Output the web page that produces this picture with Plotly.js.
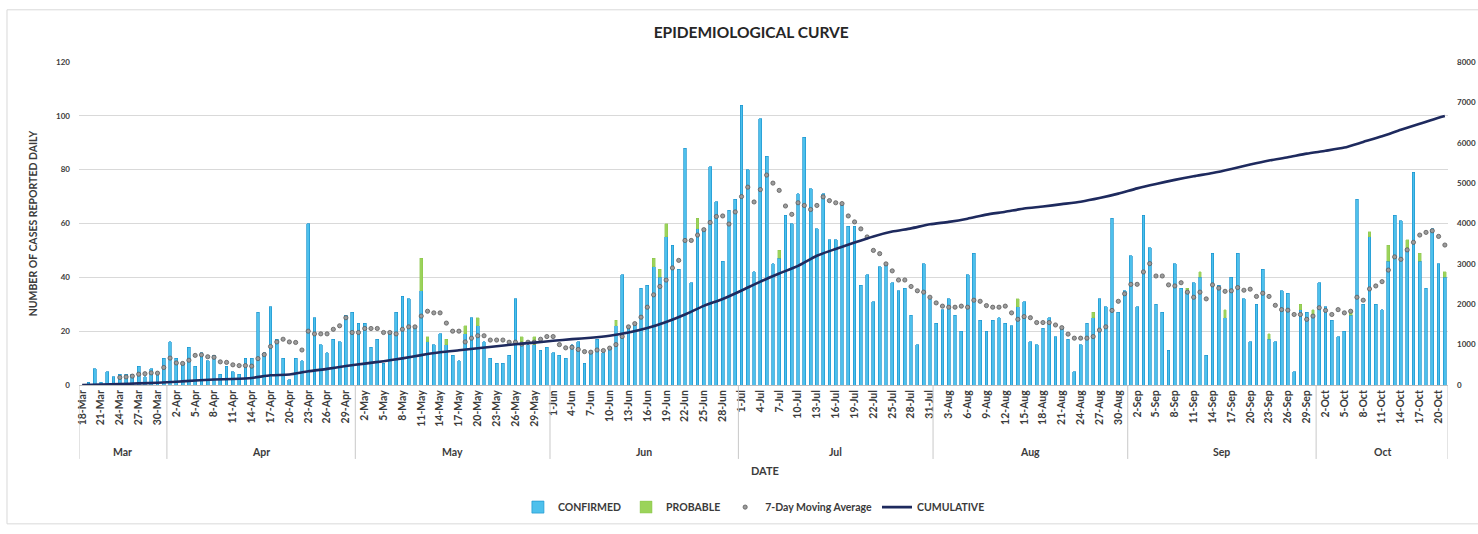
<!DOCTYPE html>
<html><head><meta charset="utf-8">
<script src="https://cdn.plot.ly/plotly-3.0.1.min.js"></script>
<style>html,body{margin:0;padding:0;background:#fff;}#chart{width:1478px;height:534px;}</style>
</head><body><div id="chart"></div>
<script>
// ---- categories ----
const months = ["Mar","Apr","May","Jun","Jul","Aug","Sep","Oct"];
const monthFirstDay = [18,1,1,1,1,1,1,1];
const monthDays = [14,30,31,30,31,31,30,21];

const tickLabels = ["18-Mar","21-Mar","24-Mar","27-Mar","30-Mar","2-Apr","5-Apr","8-Apr","11-Apr","14-Apr","17-Apr","20-Apr","23-Apr","26-Apr","29-Apr","2-May","5-May","8-May","11-May","14-May","17-May","20-May","23-May","26-May","29-May","1-Jun","4-Jun","7-Jun","10-Jun","13-Jun","16-Jun","19-Jun","22-Jun","25-Jun","28-Jun","1-Jul","4-Jul","7-Jul","10-Jul","13-Jul","16-Jul","19-Jul","22-Jul","25-Jul","28-Jul","31-Jul","3-Aug","6-Aug","9-Aug","12-Aug","15-Aug","18-Aug","21-Aug","24-Aug","27-Aug","30-Aug","2-Sep","5-Sep","8-Sep","11-Sep","14-Sep","17-Sep","20-Sep","23-Sep","26-Sep","29-Sep","2-Oct","5-Oct","8-Oct","11-Oct","14-Oct","17-Oct","20-Oct"];

// ---- series (daily, 18-Mar .. 21-Oct) ----
const confirmed = [
0,1,6,1,5,3,4,4,4,7,3,6,4,10,
16,10,8,14,7,12,9,11,4,7,5,4,10,10,27,12,29,17,10,2,10,9,
60,25,15,12,17,16,26,27,23,23,14,17,8,20,27,33,32,22,
35,16,15,19,15,11,9,19,25,22,16,10,8,8,11,32,16,15,
15,13,14,12,11,10,15,16,8,12,17,12,14,22,
41,21,23,36,37,44,40,55,52,43,88,38,58,58,81,68,46,65,69,104,80,42,
99,85,45,47,63,60,71,92,73,58,71,54,54,67,59,59,37,
41,31,44,45,38,35,36,26,15,45,32,23,28,32,26,20,41,49,24,20,
24,25,23,22,29,31,16,15,21,25,18,21,17,5,15,23,25,32,29,
62,27,35,48,29,63,51,30,27,13,45,36,34,38,40,11,49,37,
25,40,49,32,16,30,43,17,16,35,34,5,28,27,26,38,29,24,18,20,26,69,30,55,30,28,46,63,61,51,79,46,36,58,45,40
];

const probableDates = ["11-May","12-May","15-May","18-May","20-May","27-May","29-May","11-Jun","17-Jun","18-Jun","19-Jun","24-Jun","7-Jul","14-Aug","26-Aug","10-Sep","12-Sep","16-Sep","23-Sep","28-Sep","30-Sep","6-Oct","9-Oct","12-Oct","15-Oct","17-Oct","21-Oct"];
const probableValues = [12,2,2,3,3,2,3,2,3,3,5,4,3,3,2,2,2,3,2,2,2,2,2,6,3,3,2];

const movingAvg = [
null,null,null,null,null,null,
2.8,3.0,3.3,4.0,4.2,4.5,4.4,6.5,
10.0,8.2,8.0,9.2,11.0,11.2,10.5,10.3,8.6,8.4,7.5,7.2,7.2,7.0,9.8,11.3,14.3,16.0,17.0,16.0,15.8,13.0,
20.0,19.0,19.0,19.0,20.7,22.0,25.0,19.5,19.5,21.0,21.0,21.0,19.5,19.5,19.0,20.7,21.6,21.6,
25.6,27.4,26.8,26.8,23.0,20.0,20.0,16.0,17.4,18.3,18.3,16.7,16.7,16.7,15.9,15.9,15.2,15.9,
15.9,17.0,18.0,18.0,15.0,13.8,14.0,13.2,12.4,12.2,13.0,12.8,13.7,15.0,
18.0,21.6,22.8,25.2,28.9,33.5,36.6,39.0,43.5,46.3,53.7,53.7,55.7,57.7,60.4,62.6,62.8,59.8,64.3,70.0,73.5,68.0,
72.6,78.0,75.0,72.3,66.5,63.4,67.7,66.7,65.2,66.7,69.9,68.5,67.7,67.4,62.8,60.6,58.0,
55.0,50.0,48.8,45.0,42.4,39.0,39.0,36.6,35.0,34.5,32.6,30.5,29.3,28.9,28.9,29.3,28.9,31.5,31.1,29.5,
28.9,28.9,29.3,26.8,24.4,25.4,25.0,23.2,23.2,23.2,22.3,21.3,18.9,17.4,17.4,17.4,18.0,20.4,21.6,
27.7,31.1,33.9,37.4,37.4,42.0,45.1,40.5,40.5,37.2,36.8,38.0,34.5,32.6,34.5,32.0,37.2,36.0,
34.8,35.0,36.2,35.2,35.6,32.9,34.1,32.9,29.6,28.0,27.8,26.2,26.2,24.4,25.6,28.7,27.7,26.2,28.0,26.8,27.4,32.6,31.5,35.7,36.8,38.4,42.7,47.6,46.7,50.2,53.0,55.7,56.7,57.3,55.2,52.0
];

// cumulative total, read at each labelled date (plus last day)
const cumDates = tickLabels.concat(["21-Oct"]);
const cumulative = [0,12,25,40,55,80,110,135,150,175,240,260,340,400,470,530,590,660,740,810,860,910,960,1010,1050,1096,1135,1170,1220,1300,1410,1560,1746,1960,2130,2340,2560,2760,2950,3200,3370,3530,3680,3800,3880,3980,4040,4120,4220,4290,4370,4420,4480,4540,4630,4740,4870,4980,5080,5170,5250,5350,5460,5560,5640,5730,5800,5880,6020,6160,6320,6470,6620,6660];

// ---- build full category list ----
const dates = [];
const monthStart = [];
months.forEach((m,i)=>{
  monthStart.push(dates.length);
  for(let k=0;k<monthDays[i];k++) dates.push((monthFirstDay[i]+k)+'-'+m);
});
monthStart.push(dates.length);

const FONT = 'Lato, "Open Sans", sans-serif';
const TXT = '#3b3b3b';

const traces = [
  {type:'bar', name:'CONFIRMED', x:dates, y:confirmed,
   marker:{color:'#4DC0EC', line:{color:'#1C96D0', width:0.7}}},
  {type:'bar', name:'PROBABLE', x:probableDates, y:probableValues,
   marker:{color:'#9BD35A', line:{color:'#86C446', width:0.4}}},
  {type:'scatter', mode:'markers', name:'7-Day Moving Average', x:dates, y:movingAvg,
   marker:{symbol:'circle', size:4.2, color:'#9C9C9C', line:{color:'#5a5a5a', width:0.8}}},
  {type:'scatter', mode:'lines', name:'CUMULATIVE', x:cumDates, y:cumulative, yaxis:'y2',
   line:{color:'#1E2A5E', width:2.6, shape:'spline', smoothing:0.6}}
];

const shapes = monthStart.map(b=>({type:'line', xref:'x', yref:'paper',
  x0:b-0.5, x1:b-0.5, y0:0, y1:-0.229, line:{color:'#C8C8C8', width:1}}));
shapes.push({type:'rect', xref:'paper', yref:'paper', x0:-0.0526, x1:1.03, y0:-0.4299, y1:1.1616,
  line:{color:'#D9D9D9', width:1}, layer:'below'});

const annotations = months.map((m,i)=>({xref:'x', yref:'paper',
  x: monthStart[i] + (monthDays[i]-1)/2, y:-0.207, text:m, showarrow:false,
  font:{family:FONT, size:10.5, color:TXT, weight:700}, yanchor:'middle'}));
annotations.push({xref:'paper', yref:'paper', x:0.501, y:-0.265, text:'DATE', showarrow:false,
  font:{family:FONT, size:11, color:TXT, weight:700}, yanchor:'middle'});

const layout = {
  width:1478, height:534,
  margin:{l:79, r:30, t:62, b:144},
  paper_bgcolor:'#fff', plot_bgcolor:'#fff',
  barmode:'stack', bargap:0.55,
  showlegend:true,
  title:{text:'EPIDEMIOLOGICAL CURVE', xref:'paper', x:0.491, xanchor:'center',
         yref:'container', y:1-33/534, yanchor:'middle',
         font:{family:FONT, size:15.5, color:'#262626', weight:700}},
  xaxis:{type:'category', categoryorder:'array', categoryarray:dates,
         range:[-0.5, dates.length-0.5], tickmode:'array', tickvals:tickLabels, ticktext:tickLabels,
         tickangle:-90, ticks:'', showgrid:false, showline:true, linecolor:'#BFBFBF', linewidth:1,
         tickfont:{family:FONT, size:10.5, color:TXT, weight:700}, fixedrange:true},
  yaxis:{range:[0,120], dtick:20, showgrid:true, gridcolor:'#D9D9D9', gridwidth:1, zeroline:false,
         ticks:'', ticklabelstandoff:8, tickfont:{family:FONT, size:8, color:TXT, weight:700},
         title:{text:'NUMBER OF CASES REPORTED DAILY', standoff:16,
                font:{family:FONT, size:10.5, color:TXT, weight:700}}},
  yaxis2:{overlaying:'y', side:'right', range:[0,8000], dtick:1000, showgrid:false, zeroline:false,
          ticks:'', ticklabelstandoff:8, tickfont:{family:FONT, size:8, color:TXT, weight:700}},
  legend:{orientation:'h', xref:'paper', x:0.493, xanchor:'center', yref:'paper', y:-0.378, yanchor:'middle',
          font:{family:FONT, size:10.5, color:TXT, weight:700}, traceorder:'normal', itemwidth:30},
  shapes:shapes, annotations:annotations
};

Plotly.newPlot('chart', traces, layout, {displayModeBar:false, staticPlot:true});
</script></body></html>
